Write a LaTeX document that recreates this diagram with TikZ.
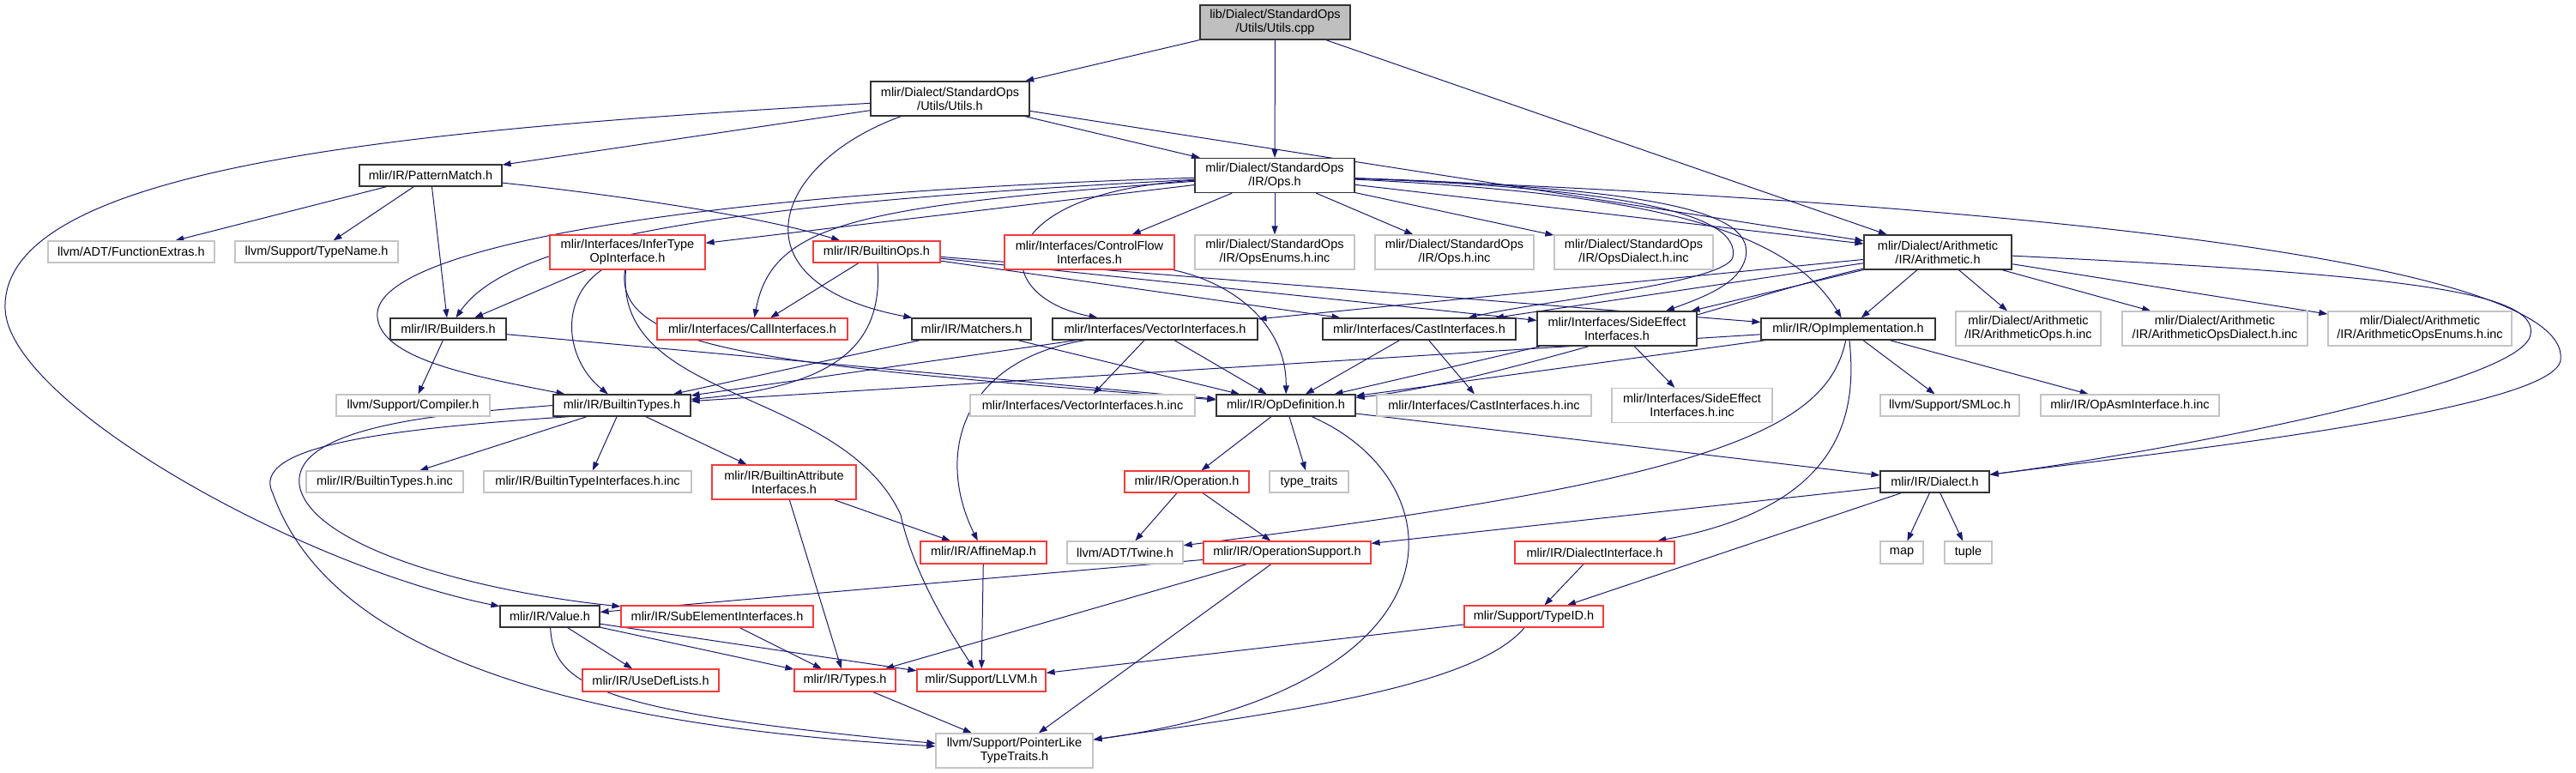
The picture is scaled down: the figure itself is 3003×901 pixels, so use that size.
\documentclass[tikz,border=0pt]{standalone}
\usepackage{fontspec}
\setmainfont{Liberation Sans}
\usepackage{tikz}
\usetikzlibrary{arrows.meta, backgrounds}
\definecolor{edgeblue}{HTML}{191970}
\definecolor{truncred}{HTML}{F43B3B}
\definecolor{extgray}{HTML}{C4C4C4}
\definecolor{srcgray}{HTML}{BFBFBF}

\begin{document}
\begin{tikzpicture}[x=1pt, y=-1pt,
  hdr/.style={draw=black!80, line width=1.2pt, fill=white, inner sep=0pt, align=center,
    font=\fontsize{14.5}{15.7}\selectfont},
  trunc/.style={hdr, draw=truncred},
  ext/.style={hdr, draw=extgray},
  sz/.style 2 args={minimum width=#1pt, minimum height=#2pt},
  dep/.style={edgeblue, line width=1pt, -{Triangle[length=10pt, width=7pt]}}]
  \useasboundingbox (0,0) rectangle (3003,901);

  \node[hdr, sz={175}{40}, fill=srcgray] (root) at (1486.5,26) {lib/Dialect/StandardOps\\/Utils/Utils.cpp};
  \node[hdr, sz={185}{40}] (utilsh) at (1107.5,115) {mlir/Dialect/StandardOps\\/Utils/Utils.h};
  \node[hdr, sz={186}{40}] (opsh) at (1486,204.5) {mlir/Dialect/StandardOps\\/IR/Ops.h};
  \node[hdr, sz={166}{25}] (patmatch) at (502,204.5) {mlir/IR/PatternMatch.h};
  \node[hdr, sz={172}{40}] (arith) at (2259,294) {mlir/Dialect/Arithmetic\\/IR/Arithmetic.h};

  \node[ext, sz={194}{25}] (funcx) at (153,293.5) {llvm/ADT/FunctionExtras.h};
  \node[ext, sz={190}{25}] (typename) at (369,293.5) {llvm/Support/TypeName.h};
  \node[trunc, sz={181}{40}] (infertype) at (731.5,294) {mlir/Interfaces/InferType\\OpInterface.h};
  \node[trunc, sz={148}{25}] (builtinops) at (1022,293.5) {mlir/IR/BuiltinOps.h};
  \node[trunc, sz={198}{40}] (ctrlflow) at (1270,294) {mlir/Interfaces/ControlFlow\\Interfaces.h};
  \node[ext, sz={186}{40}] (opsenums) at (1486,294) {mlir/Dialect/StandardOps\\/IR/OpsEnums.h.inc};
  \node[ext, sz={185}{40}] (opsinc) at (1695.5,294) {mlir/Dialect/StandardOps\\/IR/Ops.h.inc};
  \node[ext, sz={185}{40}] (opsdialect) at (1904.5,294) {mlir/Dialect/StandardOps\\/IR/OpsDialect.h.inc};

  \node[hdr, sz={135}{25}] (builders) at (522.5,383.5) {mlir/IR/Builders.h};
  \node[trunc, sz={222}{25}] (callif) at (877,383.5) {mlir/Interfaces/CallInterfaces.h};
  \node[hdr, sz={139}{25}] (matchers) at (1132.5,383.5) {mlir/IR/Matchers.h};
  \node[hdr, sz={239}{25}] (vectorif) at (1346.5,383.5) {mlir/Interfaces/VectorInterfaces.h};
  \node[hdr, sz={225}{25}] (castif) at (1654.5,383.5) {mlir/Interfaces/CastInterfaces.h};
  \node[hdr, sz={186}{40}] (sideeff) at (1885,383) {mlir/Interfaces/SideEffect\\Interfaces.h};
  \node[hdr, sz={203}{25}] (opimpl) at (2154.5,383.5) {mlir/IR/OpImplementation.h};
  \node[ext, sz={169}{40}] (arithops) at (2364.5,383) {mlir/Dialect/Arithmetic\\/IR/ArithmeticOps.h.inc};
  \node[ext, sz={216}{40}] (arithdialect) at (2582,383) {mlir/Dialect/Arithmetic\\/IR/ArithmeticOpsDialect.h.inc};
  \node[ext, sz={214}{40}] (arithenums) at (2821,383) {mlir/Dialect/Arithmetic\\/IR/ArithmeticOpsEnums.h.inc};

  \node[hdr, sz={160}{25}] (builtintypes) at (725,472.5) {mlir/IR/BuiltinTypes.h};
  \node[ext, sz={179}{25}] (compiler) at (481.5,472.5) {llvm/Support/Compiler.h};
  \node[ext, sz={262}{25}] (vectorinc) at (1262,472.5) {mlir/Interfaces/VectorInterfaces.h.inc};
  \node[hdr, sz={162}{25}] (opdef) at (1499,472.5) {mlir/IR/OpDefinition.h};
  \node[ext, sz={250}{25}] (castinc) at (1730,472.5) {mlir/Interfaces/CastInterfaces.h.inc};
  \node[ext, sz={187}{40}] (sideinc) at (1972.5,472.5) {mlir/Interfaces/SideEffect\\Interfaces.h.inc};
  \node[ext, sz={162}{25}] (smloc) at (2273,472.5) {llvm/Support/SMLoc.h};
  \node[ext, sz={208}{25}] (opasm) at (2483,472.5) {mlir/IR/OpAsmInterface.h.inc};

  \node[ext, sz={183}{25}] (btinc) at (448.5,561.5) {mlir/IR/BuiltinTypes.h.inc};
  \node[ext, sz={242}{25}] (btif) at (685,561.5) {mlir/IR/BuiltinTypeInterfaces.h.inc};
  \node[trunc, sz={168}{40}] (battrif) at (914,562) {mlir/IR/BuiltinAttribute\\Interfaces.h};
  \node[trunc, sz={145}{25}] (operation) at (1383.5,561.5) {mlir/IR/Operation.h};
  \node[ext, sz={92}{25}] (typetraits) at (1526,561.5) {type\_traits};
  \node[hdr, sz={127}{25}] (dialect) at (2255.5,561.5) {mlir/IR/Dialect.h};

  \node[trunc, sz={147}{26}] (affinemap) at (1146.5,644) {mlir/IR/AffineMap.h};
  \node[ext, sz={135}{26}] (twine) at (1311.5,644) {llvm/ADT/Twine.h};
  \node[trunc, sz={195}{26}] (opsupport) at (1500.5,644) {mlir/IR/OperationSupport.h};
  \node[trunc, sz={186}{26}] (dialectif) at (1859,644) {mlir/IR/DialectInterface.h};
  \node[ext, sz={50}{26}] (map) at (2217,644) {map};
  \node[ext, sz={55}{26}] (tuple) at (2294.5,644) {tuple};

  \node[hdr, sz={116}{25}] (value) at (641,718.5) {mlir/IR/Value.h};
  \node[trunc, sz={224}{25}] (subelem) at (836,718.5) {mlir/IR/SubElementInterfaces.h};
  \node[trunc, sz={162}{25}] (typeid) at (1788,718.5) {mlir/Support/TypeID.h};
  \node[trunc, sz={159}{26}] (usedef) at (758.5,793) {mlir/IR/UseDefLists.h};
  \node[trunc, sz={118}{26}] (types) at (985,793) {mlir/IR/Types.h};
  \node[trunc, sz={150}{26}] (llvmh) at (1144,793) {mlir/Support/LLVM.h};
  \node[ext, sz={183}{40}] (ptrlike) at (1182.5,875) {llvm/Support/PointerLike\\TypeTraits.h};

  \begin{pgfonlayer}{background}
  \draw[dep] (root) -- (utilsh);
  \draw[dep] (root) -- (opsh);
  \draw[dep] (root) -- (arith);

  \draw[dep] (utilsh) -- (patmatch);
  \draw[dep] (utilsh) .. controls (500,150) and (0,190) .. (6,360) .. controls (10,470) and (350,660) .. (value);
  \draw[dep] (utilsh) .. controls (900,190) and (850,330) .. (matchers);
  \draw[dep] (utilsh) -- (opsh);
  \draw[dep] (utilsh) -- (arith);

  \draw[dep] (patmatch) -- (funcx);
  \draw[dep] (patmatch) -- (typename);
  \draw[dep] (patmatch) -- (builders);
  \draw[dep] (patmatch) .. controls (700,225) and (880,250) .. (builtinops);

  \draw[dep] (opsh) -- (infertype);
  \draw[dep] (opsh) .. controls (900,235) and (600,270) .. (builders);
  \draw[dep] (opsh) .. controls (800,225) and (430,290) .. (440,370) .. controls (445,420) and (560,440) .. (builtintypes);
  \draw[dep] (opsh) .. controls (1000,240) and (900,260) .. (callif);
  \draw[dep] (opsh) -- (ctrlflow);
  \draw[dep] (opsh) -- (opsenums);
  \draw[dep] (opsh) -- (opsinc);
  \draw[dep] (opsh) -- (opsdialect);
  \draw[dep] (opsh) .. controls (1150,225) and (1150,345) .. (vectorif);
  \draw[dep] (opsh) -- (arith);
  \draw[dep] (opsh) .. controls (1900,220) and (2030,250) .. (2020,300) .. controls (2010,330) and (1800,350) .. (castif);
  \draw[dep] (opsh) .. controls (1950,220) and (2045,250) .. (2035,300) .. controls (2028,330) and (1990,345) .. (sideeff);
  \draw[dep] (opsh) .. controls (1900,225) and (2080,260) .. (opimpl);
  \draw[dep] (opsh) .. controls (2300,235) and (3000,300) .. (2985,420) .. controls (2975,480) and (2500,530) .. (dialect);

  \draw[dep] (builtinops) -- (callif);
  \draw[dep] (builtinops) .. controls (1030,400) and (980,450) .. (builtintypes);
  \draw[dep] (builtinops) -- (castif);
  \draw[dep] (builtinops) -- (sideeff);
  \draw[dep] (builtinops) -- (opimpl);

  \draw[dep] (infertype) -- (builders);
  \draw[dep] (infertype) .. controls (650,350) and (660,420) .. (builtintypes);
  \draw[dep] (infertype) .. controls (715,410) and (900,425) .. (opdef);
  \draw[dep] (infertype) .. controls (715,470) and (980,450) .. (1050,600) .. controls (1065,670) and (1110,740) .. (llvmh);

  \draw[dep] (arith) -- (arithops);
  \draw[dep] (arith) -- (arithdialect);
  \draw[dep] (arith) -- (arithenums);
  \draw[dep] (arith) -- (opimpl);
  \draw[dep] (arith) -- (castif);
  \draw[dep] (arith) -- (sideeff);
  \draw[dep] (arith) -- (vectorif);
  \draw[dep] (arith) .. controls (2050,340) and (1750,445) .. (opdef);
  \draw[dep] (arith) .. controls (2800,320) and (2960,340) .. (2950,390) .. controls (2940,450) and (2500,530) .. (dialect);

  \draw[dep] (builders) -- (compiler);
  \draw[dep] (builders) -- (opdef);
  \draw[dep] (matchers) -- (builtintypes);
  \draw[dep] (matchers) -- (opdef);
  \draw[dep] (vectorif) -- (builtintypes);
  \draw[dep] (vectorif) -- (vectorinc);
  \draw[dep] (vectorif) -- (opdef);
  \draw[dep] (vectorif) .. controls (1120,420) and (1090,530) .. (affinemap);
  \draw[dep] (ctrlflow) .. controls (1440,330) and (1500,380) .. (opdef);
  \draw[dep] (castif) -- (opdef);
  \draw[dep] (castif) -- (castinc);
  \draw[dep] (sideeff) -- (opdef);
  \draw[dep] (sideeff) -- (sideinc);

  \draw[dep] (opimpl) -- (opdef);
  \draw[dep] (opimpl) -- (builtintypes);
  \draw[dep] (opimpl) -- (smloc);
  \draw[dep] (opimpl) -- (opasm);
  \draw[dep] (opimpl) .. controls (2130,500) and (2000,560) .. (twine);
  \draw[dep] (opimpl) .. controls (2165,480) and (2150,590) .. (dialectif);

  \draw[dep] (builtintypes) -- (btinc);
  \draw[dep] (builtintypes) -- (btif);
  \draw[dep] (builtintypes) -- (battrif);
  \draw[dep] (builtintypes.west) .. controls (560,480) and (330,490) .. (350,570) .. controls (370,640) and (560,690) .. (subelem);
  \draw[dep] ([xshift=20pt]builtintypes.south west) .. controls (450,500) and (290,520) .. (318,575) .. controls (370,720) and (560,840) .. (ptrlike);

  \draw[dep] (value) -- (usedef);
  \draw[dep] (value) -- (types);
  \draw[dep] (value) -- (llvmh);
  \draw[dep] (value) .. controls (645,800) and (700,830) .. (ptrlike);
  \draw[dep] (subelem) -- (types);
  \draw[dep] (battrif) -- (types);
  \draw[dep] (battrif) -- (affinemap);
  \draw[dep] (affinemap) -- (llvmh);
  \draw[dep] (types) -- (ptrlike);

  \draw[dep] (opdef) -- (operation);
  \draw[dep] (opdef) -- (typetraits);
  \draw[dep] (opdef) -- (dialect);
  \draw[dep] (opdef) .. controls (1700,560) and (1720,800) .. (ptrlike);
  \draw[dep] (operation) -- (twine);
  \draw[dep] (operation) -- (opsupport);
  \draw[dep] (opsupport) -- (value);
  \draw[dep] (opsupport) -- (types);
  \draw[dep] (opsupport) -- (ptrlike);
  \draw[dep] (dialect) -- (opsupport);
  \draw[dep] (dialect) -- (typeid);
  \draw[dep] (dialect) -- (map);
  \draw[dep] (dialect) -- (tuple);
  \draw[dep] (dialectif) -- (typeid);
  \draw[dep] (typeid) -- (llvmh);
  \draw[dep] (typeid) .. controls (1720,800) and (1500,830) .. (ptrlike);
  \end{pgfonlayer}
\end{tikzpicture}
\end{document}
